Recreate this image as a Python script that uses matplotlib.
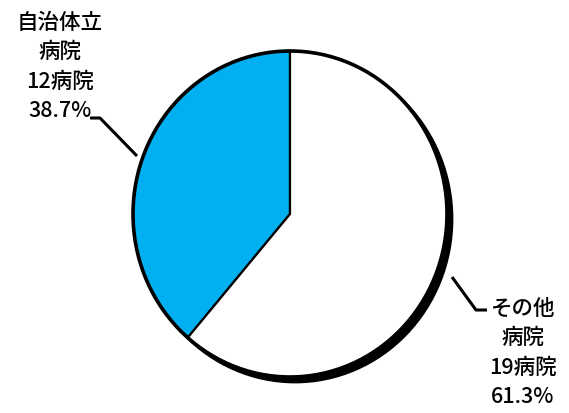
import matplotlib
matplotlib.use("Agg")
import matplotlib.pyplot as plt
from matplotlib.patches import Ellipse

plt.rcParams['font.family'] = ['Noto Sans CJK JP', 'DejaVu Sans']

categories = ["自治体立\n病院", "その他\n病院"]
counts = [12, 19]
percents = [38.7, 61.3]
colors = ["#00B0F0", "#FFFFFF"]

W, H = 569, 414
fig = plt.figure(figsize=(W / 100, H / 100), dpi=100)

# pie axes: bounding box of the (slightly elliptical) pie in pixels
px_l, px_r, px_t, px_b = 133, 447, 52, 378
ax = fig.add_axes([px_l / W, (H - px_b) / H, (px_r - px_l) / W, (px_b - px_t) / H])
rx = (px_r - px_l) / 2
ry = (px_b - px_t) / 2

# shadow
ax.add_patch(Ellipse((5 / rx, -5 / ry), 2, 2, facecolor="black", edgecolor="black",
                     lw=2, zorder=1, clip_on=False))
wedges, _ = ax.pie(counts, colors=colors, startangle=90, counterclock=True,
                   wedgeprops=dict(edgecolor="black", linewidth=1.6))
for w in wedges:
    w.set_zorder(2)
    w.set_clip_on(False)
ax.add_patch(Ellipse((0, 0), 2, 2, facecolor="none", edgecolor="black", lw=2.6,
                     zorder=3, clip_on=False))
ax.set_aspect("auto")
ax.set_xlim(-1, 1)
ax.set_ylim(-1, 1)
ax.axis("off")

# overlay for labels in pixel coordinates
ov = fig.add_axes([0, 0, 1, 1], zorder=5)
ov.set_xlim(0, W)
ov.set_ylim(H, 0)
ov.axis("off")
ov.patch.set_alpha(0)

labels = [f"{c}\n{n}病院\n{p:.1f}%" for c, n, p in zip(categories, counts, percents)]
ov.text(60, 67, labels[0], ha="center", va="center", fontsize=15.5, linespacing=1.42,
        fontweight="medium")
ov.text(523, 353, labels[1], ha="center", va="center", fontsize=15.5, linespacing=1.42,
        fontweight="medium")

ov.plot([90, 100, 137], [119, 119, 157], color="black", lw=2.2, solid_capstyle="butt")
ov.plot([452, 476, 487], [278, 311, 311], color="black", lw=2.2, solid_capstyle="butt")

fig.savefig("out.png", dpi=100, facecolor="white")
